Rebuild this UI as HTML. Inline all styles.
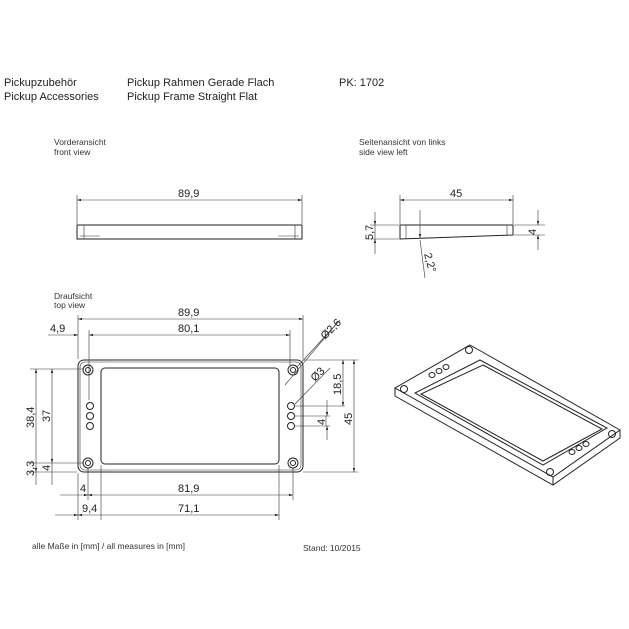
<!DOCTYPE html>
<html><head><meta charset="utf-8"><style>
html,body{margin:0;padding:0;background:#fff;width:629px;height:629px;overflow:hidden}
svg{display:block;font-family:"Liberation Sans",sans-serif}
.t{font-size:11px;fill:#222}
.s{font-size:8.5px;fill:#333}
.d{font-size:11px;fill:#222}
.l{stroke:#222;fill:none;stroke-width:1}
.h{stroke:#333;fill:none;stroke-width:0.6}
</style></head><body>
<svg width="629" height="629" viewBox="0 0 629 629" xmlns="http://www.w3.org/2000/svg">
<defs>
<marker id="a" viewBox="0 0 10 6" refX="10" refY="3" markerWidth="8" markerHeight="4" orient="auto-start-reverse"><path d="M0,0L10,3L0,6z" fill="#222"/></marker>
</defs>
<text class="t" x="4" y="86">Pickupzubehör</text>
<text class="t" x="4" y="100">Pickup Accessories</text>
<text class="t" x="127" y="86">Pickup Rahmen Gerade Flach</text>
<text class="t" x="127" y="100">Pickup Frame Straight Flat</text>
<text class="t" x="339" y="86">PK: 1702</text>
<text class="s" x="54" y="145">Vorderansicht</text>
<text class="s" x="54" y="155">front view</text>
<text class="s" x="359" y="145">Seitenansicht von links</text>
<text class="s" x="359" y="155">side view left</text>
<text class="s" x="54" y="299">Draufsicht</text>
<text class="s" x="54" y="308">top view</text>
<text class="s" x="32" y="549">alle Maße in [mm] / all measures in [mm]</text>
<text class="s" x="303" y="551">Stand: 10/2015</text>

<!-- front view -->
<rect class="l" x="77" y="225" width="225" height="14"/>
<line class="h" x1="84" y1="225" x2="84" y2="239"/><line class="h" x1="295" y1="225" x2="295" y2="239"/>
<line class="h" x1="80" y1="236" x2="100" y2="236"/><line class="h" x1="278" y1="236" x2="299" y2="236"/>
<line class="h" x1="77" y1="195" x2="77" y2="224"/><line class="h" x1="302" y1="195" x2="302" y2="224"/>
<line class="h" x1="77" y1="200" x2="302" y2="200" marker-start="url(#a)" marker-end="url(#a)"/>
<text class="d" x="178" y="197">89,9</text>

<!-- side view -->
<path class="l" d="M400,225H513V235L400,239Z"/>
<line class="h" x1="406" y1="225" x2="406" y2="239"/><line class="h" x1="507" y1="225" x2="507" y2="235"/>
<line class="h" x1="400" y1="195" x2="400" y2="224"/><line class="h" x1="513" y1="195" x2="513" y2="224"/>
<line class="h" x1="400" y1="200" x2="513" y2="200" marker-start="url(#a)" marker-end="url(#a)"/>
<text class="d" x="450" y="197">45</text>
<line class="h" x1="370" y1="225" x2="399" y2="225"/><line class="h" x1="370" y1="239" x2="399" y2="239"/>
<line class="h" x1="375" y1="212" x2="375" y2="225" marker-end="url(#a)"/><line class="h" x1="375" y1="254" x2="375" y2="239" marker-end="url(#a)"/>
<line class="h" x1="375" y1="225" x2="375" y2="239"/>
<text class="d" transform="translate(373,240) rotate(-90)">5,7</text>
<line class="h" x1="514" y1="225" x2="545" y2="225"/><line class="h" x1="514" y1="235" x2="545" y2="235"/>
<line class="h" x1="538" y1="210" x2="538" y2="225" marker-end="url(#a)"/><line class="h" x1="538" y1="250" x2="538" y2="235" marker-end="url(#a)"/>
<text class="d" transform="translate(536,235) rotate(-90)">4</text>
<line class="h" x1="420" y1="210" x2="420" y2="238" marker-end="url(#a)"/>
<line class="h" x1="420" y1="240" x2="425" y2="278"/>
<text class="d" transform="translate(424,254) rotate(75)">2,2°</text>

<!-- top view -->
<rect class="l" x="78" y="360" width="225" height="112" rx="6"/>
<rect class="h" x="80" y="362" width="221" height="108" rx="5"/>
<rect class="l" x="101" y="368" width="178" height="96" rx="4"/>
<g class="l">
<circle cx="88" cy="370" r="5"/><circle cx="88" cy="370" r="2.5"/>
<circle cx="293" cy="370" r="5"/><circle cx="293" cy="370" r="2.5"/>
<circle cx="88" cy="463" r="5"/><circle cx="88" cy="463" r="2.5"/>
<circle cx="293" cy="463" r="5"/><circle cx="293" cy="463" r="2.5"/>
<circle cx="90" cy="406" r="3.5"/><circle cx="90" cy="416" r="3.5"/><circle cx="90" cy="426" r="3.5"/>
<circle cx="291" cy="406" r="3.5"/><circle cx="291" cy="416" r="3.5"/><circle cx="291" cy="426" r="3.5"/>
</g>
<g class="h">
<line x1="78" y1="315" x2="78" y2="359"/><line x1="303" y1="315" x2="303" y2="359"/>
<line x1="78" y1="319" x2="303" y2="319" marker-start="url(#a)" marker-end="url(#a)"/>
<line x1="89" y1="330" x2="89" y2="400"/><line x1="290" y1="330" x2="290" y2="365"/>
<line x1="89" y1="335" x2="290" y2="335" marker-start="url(#a)" marker-end="url(#a)"/>
<line x1="48" y1="335" x2="78" y2="335" marker-end="url(#a)"/>
<line x1="285" y1="385" x2="338" y2="322" /><line x1="297" y1="367" x2="340" y2="320"/>
<line x1="295" y1="404" x2="330" y2="368"/>
<line x1="303" y1="360" x2="358" y2="360"/><line x1="303" y1="472" x2="358" y2="472"/>
<line x1="295" y1="406" x2="345" y2="406"/><line x1="295" y1="416" x2="330" y2="416"/><line x1="295" y1="426" x2="330" y2="426"/>
<line x1="343" y1="360" x2="343" y2="406" marker-start="url(#a)" marker-end="url(#a)"/>
<line x1="354" y1="360" x2="354" y2="472" marker-start="url(#a)" marker-end="url(#a)"/>
<line x1="327" y1="400" x2="327" y2="416" marker-end="url(#a)"/><line x1="327" y1="440" x2="327" y2="426" marker-end="url(#a)"/>
<line x1="326" y1="416" x2="326" y2="426"/>
<line x1="30" y1="369" x2="84" y2="369"/><line x1="30" y1="472" x2="77" y2="472"/><line x1="30" y1="463" x2="84" y2="463"/>
<line x1="36" y1="369" x2="36" y2="472" marker-start="url(#a)" marker-end="url(#a)"/>
<line x1="52" y1="369" x2="52" y2="463" marker-start="url(#a)" marker-end="url(#a)"/>
<line x1="36" y1="472" x2="36" y2="485"/><line x1="52" y1="463" x2="52" y2="485"/>
<line x1="88" y1="468" x2="88" y2="500"/><line x1="293" y1="468" x2="293" y2="500"/>
<line x1="101" y1="465" x2="101" y2="520"/><line x1="279" y1="465" x2="279" y2="520"/>
<line x1="78" y1="473" x2="78" y2="520"/>
<line x1="60" y1="495" x2="88" y2="495" marker-end="url(#a)"/>
<line x1="88" y1="495" x2="293" y2="495" marker-start="url(#a)" marker-end="url(#a)"/>
<line x1="55" y1="515" x2="78" y2="515" marker-end="url(#a)"/>
<line x1="78" y1="515" x2="279" y2="515" marker-start="url(#a)" marker-end="url(#a)"/>
</g>
<text class="d" x="178" y="316">89,9</text>
<text class="d" x="178" y="332">80,1</text>
<text class="d" x="50" y="332">4,9</text>
<text class="d" transform="translate(325,340) rotate(-45)">Ø2,6</text>
<text class="d" transform="translate(315,382) rotate(-45)">Ø3</text>
<text class="d" transform="translate(341,395) rotate(-90)">18,5</text>
<text class="d" transform="translate(352,425) rotate(-90)">45</text>
<text class="d" transform="translate(325,425) rotate(-90)">4</text>
<text class="d" transform="translate(34,428) rotate(-90)">38,4</text>
<text class="d" transform="translate(50,422) rotate(-90)">37</text>
<text class="d" transform="translate(34,476) rotate(-90)">3,3</text>
<text class="d" transform="translate(50,471) rotate(-90)">4</text>
<text class="d" x="80" y="492">4</text>
<text class="d" x="178" y="492">81,9</text>
<text class="d" x="82" y="512">9,4</text>
<text class="d" x="178" y="512">71,1</text>

<!-- iso view -->
<g class="l" stroke-width="0.9">
<path d="M470,345L620,430L553,477L395,388Z"/>
<path d="M395,388V396L553,485L620,438V430"/>
<line x1="553" y1="477" x2="553" y2="485"/>
<path d="M480,360L607,428L543,465L415,393Z"/>
<path d="M483,365L602,429L543,461L421,394Z"/>
<circle cx="469" cy="350" r="3.5"/><circle cx="404" cy="389" r="3.5"/>
<circle cx="612" cy="434" r="3.5"/><circle cx="550" cy="472" r="3.5"/>
<ellipse cx="432" cy="375" rx="3" ry="2.5"/><ellipse cx="439" cy="371" rx="3" ry="2.5"/><ellipse cx="446" cy="367" rx="3" ry="2.5"/>
<ellipse cx="572" cy="452" rx="3" ry="2.5"/><ellipse cx="579" cy="448" rx="3" ry="2.5"/><ellipse cx="586" cy="444" rx="3" ry="2.5"/>
</g>
</svg>
</body></html>
